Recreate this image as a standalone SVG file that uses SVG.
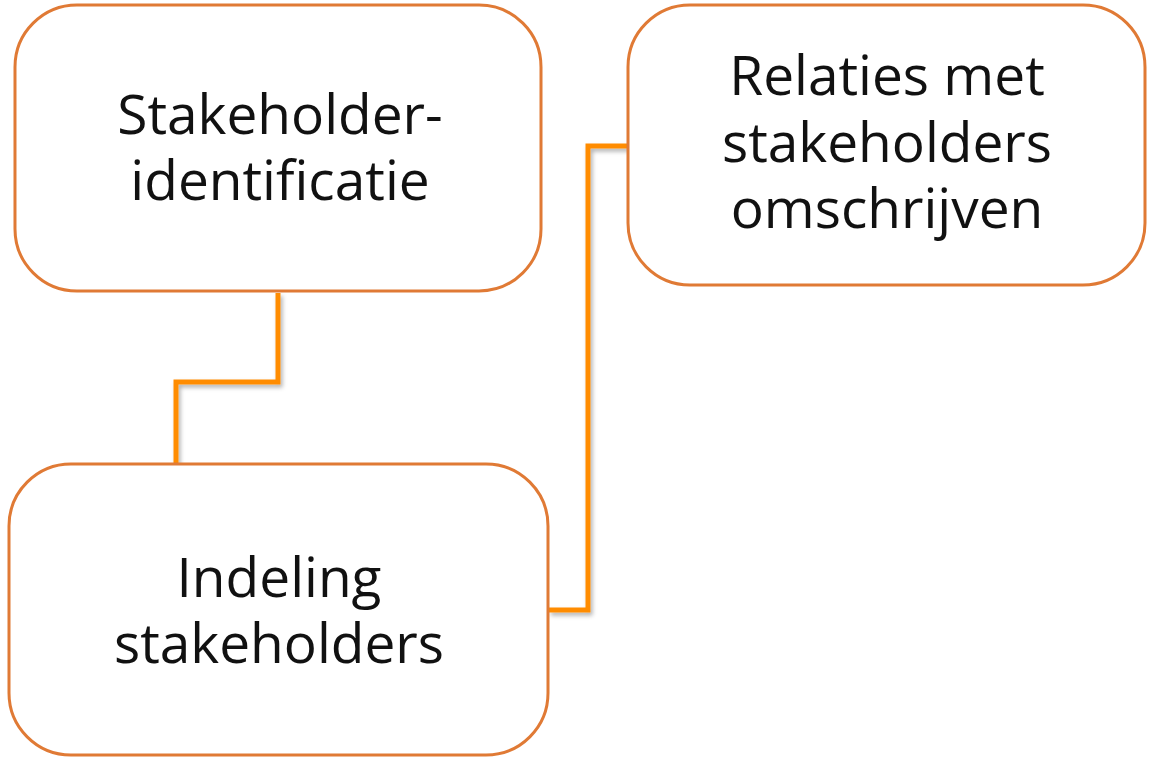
<svg xmlns="http://www.w3.org/2000/svg" width="1153" height="764" viewBox="0 0 1153 764">
  <defs>
    <filter id="sh" x="-20%" y="-20%" width="140%" height="140%">
      <feDropShadow dx="2" dy="3" stdDeviation="2" flood-color="#000" flood-opacity="0.3"/>
    </filter>
    <style>
      .box { fill: #ffffff; stroke: #E07A35; stroke-width: 3; }
      .lbl { font-family: "Open Sans", "Liberation Sans", sans-serif; font-size: 55px; fill: #111111; text-anchor: middle; }
      .conn { fill: none; stroke: #FF8C00; stroke-width: 5; stroke-linejoin: miter; filter: url(#sh); }
    </style>
  </defs>
  <rect width="1153" height="764" fill="#ffffff"/>
  <g id="connectors">
    <path class="conn" d="M278,293 V382 H176 V472"/>
    <path class="conn" d="M549,610 H588 V146 H628"/>
  </g>
  <g id="node-identificatie">
    <rect class="box" x="15" y="5" width="526" height="286" rx="62" ry="62"/>
    <text class="lbl" x="279" y="134"><tspan x="280" y="134">Stakeholder-</tspan><tspan x="280" y="200">identificatie</tspan></text>
  </g>
  <g id="node-indeling">
    <rect class="box" x="9" y="464" width="539" height="291" rx="62" ry="62"/>
    <text class="lbl" x="279" y="597"><tspan x="279" y="597">Indeling</tspan><tspan x="279" y="663">stakeholders</tspan></text>
  </g>
  <g id="node-relaties">
    <rect class="box" x="628" y="5" width="517" height="280" rx="62" ry="62"/>
    <text class="lbl" x="887" y="95"><tspan x="887" y="95">Relaties met</tspan><tspan x="887" y="162">stakeholders</tspan><tspan x="887" y="228">omschrijven</tspan></text>
  </g>
</svg>
